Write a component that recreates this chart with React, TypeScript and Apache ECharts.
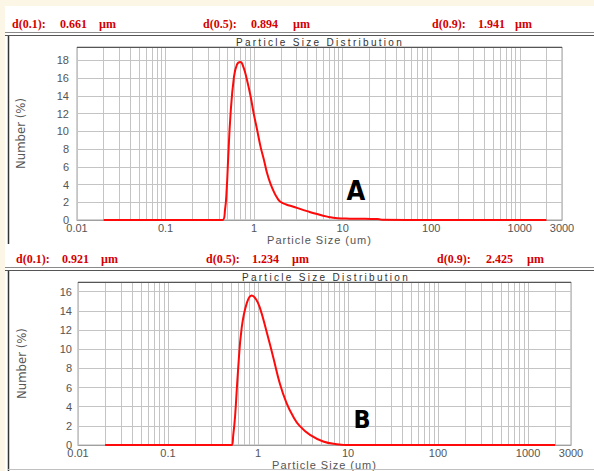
import React, { useEffect, useRef } from "react";
import * as echarts from "echarts";

// ---- data ----
const sizesA = [0.02, 0.1, 0.3, 0.44, 0.47, 0.49, 0.51, 0.54, 0.59, 0.64, 0.7, 0.76, 0.83, 0.91, 0.99, 1.08, 1.18, 1.29, 1.4, 1.53, 1.67, 1.82, 1.98, 2.3, 2.78, 3.3, 3.96, 5.0, 6.7, 8.7, 12, 18, 25, 28, 100, 500, 2000];
const numberA = [0, 0, 0, 0, 1.2, 3.4, 7.0, 11.7, 16.0, 17.5, 17.8, 17.2, 15.8, 14.0, 12.0, 10.2, 8.3, 6.8, 5.3, 4.1, 3.2, 2.5, 2.05, 1.75, 1.5, 1.25, 1.0, 0.7, 0.38, 0.2, 0.15, 0.13, 0.12, 0.02, 0, 0, 0];

const sizesB = [0.02, 0.1, 0.3, 0.51, 0.53, 0.556, 0.6, 0.658, 0.75, 0.851, 0.95, 1.05, 1.24, 1.48, 1.75, 2.07, 2.45, 2.9, 3.78, 5.3, 7.5, 10.5, 100, 2000];
const numberB = [0, 0, 0, 0, 1.0, 3.0, 7.8, 12.2, 14.8, 15.6, 15.2, 14.3, 11.9, 9.1, 6.4, 4.4, 3.0, 2.0, 1.06, 0.38, 0.1, 0, 0, 0];

const minorGridSizes = [
  0.02, 0.03, 0.04, 0.05, 0.06, 0.07, 0.08, 0.09,
  0.2, 0.3, 0.4, 0.5, 0.6, 0.7, 0.8, 0.9,
  2, 3, 4, 5, 6, 7, 8, 9,
  20, 30, 40, 50, 60, 70, 80, 90,
  200, 300, 400, 500, 600, 700, 800, 900,
  2000,
];

const statLabels = ["d(0.1):", "d(0.5):", "d(0.9):"];
const statsA = ["0.661", "0.894", "1.941"];
const statsB = ["0.921", "1.234", "2.425"];
const unitLabel = "µm";
const xMin = 0.01;
const xMax = 3000;
const yMaxA = 19.5;
const yMaxB = 17;
const chartTitle = "Particle Size Distribution";
const xName = "Particle Size (um)";
const yName = "Number (%)";

const RED = "#d40000";
const GRIDC = "#c4c4c4";
const LABELC = "#555";

function fmtX(v: number): string {
  if (v >= 1) return String(Math.round(v));
  return String(Number(v.toPrecision(1)));
}

function makeX(gridIndex: number, nameGap: number) {
  return {
    gridIndex,
    type: "log",
    logBase: 10,
    min: xMin,
    max: xMax,
    axisLine: { show: true, lineStyle: { color: "#a0a0a0", width: 1 } },
    axisTick: { show: false },
    axisLabel: {
      color: LABELC,
      fontSize: 11,
      fontFamily: '"Liberation Sans", Arial, sans-serif',
      margin: 2,
      formatter: fmtX,
    },
    splitLine: { show: true, lineStyle: { color: GRIDC, width: 1 } },
    name: xName,
    nameLocation: "middle",
    nameGap,
    nameTextStyle: {
      color: LABELC,
      fontSize: 11,
      fontFamily: 'Arimo, "Liberation Sans", sans-serif',
    },
  };
}

function makeY(gridIndex: number, max: number, margin: number) {
  return {
    gridIndex,
    type: "value",
    min: 0,
    max,
    interval: 2,
    axisLine: { show: false },
    axisTick: { show: false },
    axisLabel: {
      color: LABELC,
      fontSize: 11,
      fontFamily: '"Liberation Sans", Arial, sans-serif',
      margin,
      showMaxLabel: false,
    },
    splitLine: { show: true, lineStyle: { color: GRIDC, width: 1 } },
    name: yName,
    nameLocation: "middle",
    nameGap: 50,
    nameTextStyle: {
      color: LABELC,
      fontSize: 13,
      fontFamily: '"Liberation Sans Narrow", "DejaVu Sans Condensed", sans-serif',
    },
  };
}

function minorSeries(idx: number) {
  return {
    type: "line",
    xAxisIndex: idx,
    yAxisIndex: idx,
    data: [],
    silent: true,
    z: 1,
    markLine: {
      silent: true,
      symbol: ["none", "none"],
      label: { show: false },
      emphasis: { disabled: true },
      lineStyle: { color: GRIDC, width: 1, type: "solid" },
      data: minorGridSizes.map((v) => ({ xAxis: v })),
    },
  };
}

function curveSeries(idx: number, xs: number[], ys: number[]) {
  return {
    type: "line",
    xAxisIndex: idx,
    yAxisIndex: idx,
    data: xs.map((s, i) => [s, ys[i]]),
    showSymbol: false,
    smooth: 0.45,
    lineStyle: { color: "#ff0a0a", width: 2, join: "round" },
    itemStyle: { color: "#ff0a0a" },
    z: 5,
  };
}

function txt(text: string, x: number, y: number, font: string, fill: string, align = "left") {
  return {
    type: "text",
    silent: true,
    z: 10,
    style: {
      text,
      x,
      y,
      font,
      fill,
      textAlign: align,
      align,
      textVerticalAlign: "middle",
      verticalAlign: "middle",
    },
  };
}

function hline(x1: number, x2: number, y: number, stroke: string, w = 1) {
  return { type: "line", silent: true, z: 10, shape: { x1, y1: y, x2, y2: y }, style: { stroke, lineWidth: w } };
}
function vline(x: number, y1: number, y2: number, stroke: string, w = 1) {
  return { type: "line", silent: true, z: 10, shape: { x1: x, y1, x2: x, y2 }, style: { stroke, lineWidth: w } };
}

export default function App() {
  const ref = useRef<HTMLDivElement>(null);

  useEffect(() => {
    if (!ref.current) return;
    const chart = echarts.init(ref.current, null, { renderer: "svg" });

    const headFont = 'bold 12px "Liberation Serif", "Times New Roman", serif';
    const headerTop = { y: 24, lab: [12, 203, 432], val: [60, 251, 478], unit: [99, 293, 515] };
    const headerBot = { y: 258.5, lab: [16, 206, 437], val: [62, 252, 486], unit: [101, 292, 527] };

    const graphics: any[] = [
      { type: "rect", silent: true, z: 0, shape: { x: 0, y: 0, width: 594, height: 6 }, style: { fill: "#fcf6e6" } },
      { type: "rect", silent: true, z: 0, shape: { x: 0, y: 0, width: 5, height: 471 }, style: { fill: "#fcf6e6" } },
      hline(5, 594, 32.5, "#8a8a8a"),
      hline(5, 594, 35.5, "#555"),
      vline(8.5, 36, 244, "#333", 1.5),
      hline(5, 594, 267.5, "#8a8a8a"),
      hline(5, 594, 270.5, "#555"),
      vline(8.5, 271, 471, "#333", 1.5),
      hline(8, 594, 469.5, "#c0c0c0"),
      hline(77, 562, 47.5, "#555"),
      hline(78, 571, 282.5, "#555"),
      txt(chartTitle, 320, 42.5, '10px Helvetica, "Liberation Sans", sans-serif', "#333", "center"),
      txt(chartTitle, 326, 277, '10px Helvetica, "Liberation Sans", sans-serif', "#333", "center"),
      txt("A", 356, 190, 'bold 27px "Liberation Sans Narrow", "DejaVu Sans Condensed", sans-serif', "#000", "center"),
      txt("B", 362, 419, 'bold 25px "Liberation Sans Narrow", "DejaVu Sans Condensed", sans-serif', "#000", "center"),
    ];
    [
      [headerTop, statsA],
      [headerBot, statsB],
    ].forEach(([h, vals]: any) => {
      for (let i = 0; i < 3; i++) {
        graphics.push(txt(statLabels[i], h.lab[i], h.y, headFont, RED));
        graphics.push(txt(vals[i], h.val[i], h.y, headFont, RED));
        graphics.push(txt(unitLabel, h.unit[i], h.y, headFont, RED));
      }
    });

    chart.setOption({
      animation: false,
      backgroundColor: "#ffffff",
      grid: [
        { left: 77, top: 47, width: 485, height: 173, show: true, borderColor: "#a0a0a0", borderWidth: 1, backgroundColor: "transparent" },
        { left: 78, top: 282, width: 493, height: 165, show: true, borderColor: "#a0a0a0", borderWidth: 1, backgroundColor: "transparent" },
      ],
      xAxis: [makeX(0, 14), makeX(1, 13)],
      yAxis: [makeY(0, yMaxA, 8), makeY(1, yMaxB, 6)],
      series: [minorSeries(0), minorSeries(1), curveSeries(0, sizesA, numberA), curveSeries(1, sizesB, numberB)],
      graphic: graphics,
    });

    return () => chart.dispose();
  }, []);

  return (
    <div style={{ position: "fixed", left: 0, top: 0, width: 594, height: 471, background: "#fff" }}>
      <style>{`
        text[style*="Helvetica"] { letter-spacing: 2.3px; }
        text[style*="Arimo"] { letter-spacing: 1px; }
      `}</style>
      <div ref={ref} style={{ width: 594, height: 471 }} />
    </div>
  );
}
